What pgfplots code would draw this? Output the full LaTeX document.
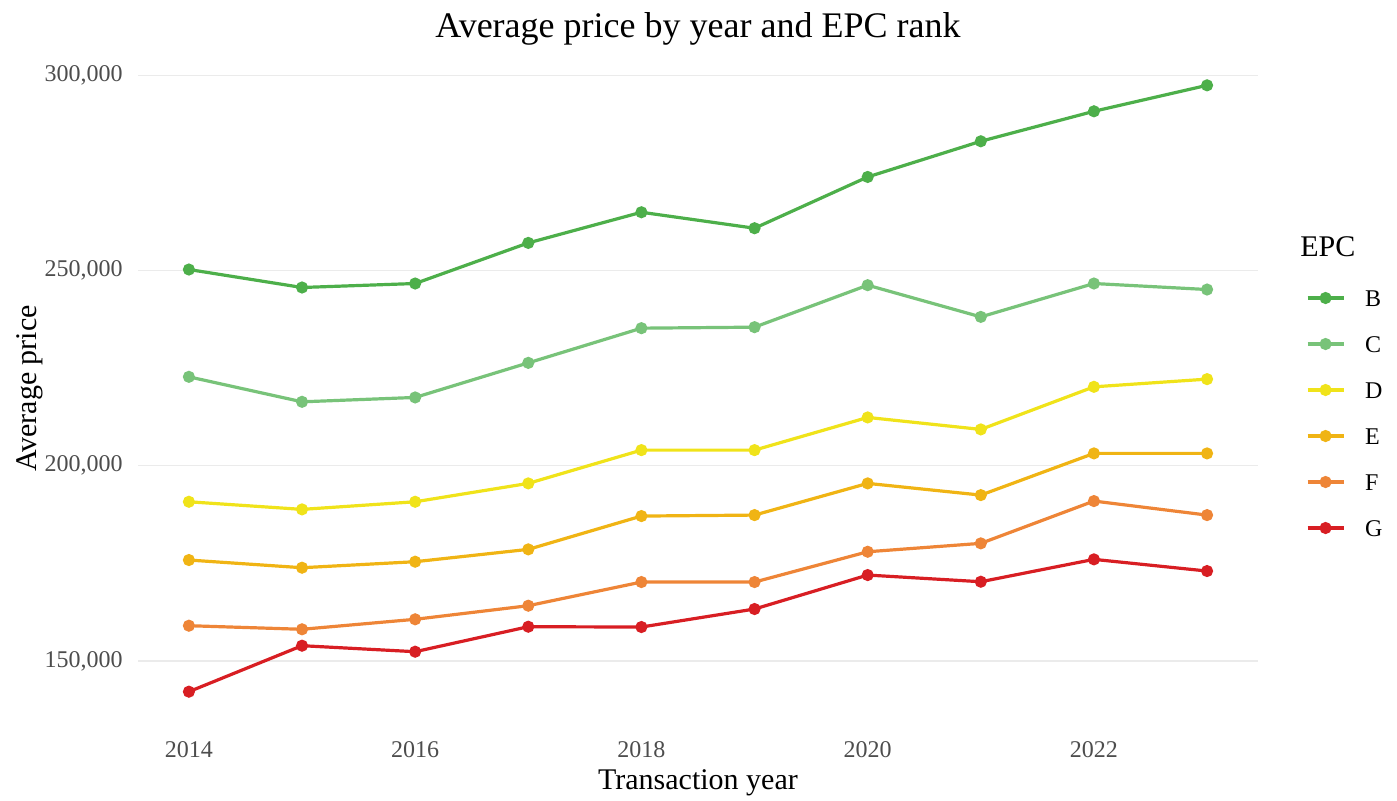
\documentclass[border=0pt]{standalone}
\usepackage{pgfplots}
\pgfplotsset{compat=1.18}
\usepackage{fontspec}
\setmainfont{Liberation Serif}
\definecolor{cB}{HTML}{4DAF4A}
\definecolor{cC}{HTML}{78C379}
\definecolor{cD}{HTML}{F0E31A}
\definecolor{cE}{HTML}{F0B414}
\definecolor{cF}{HTML}{EE8537}
\definecolor{cG}{HTML}{D81E23}
\definecolor{gridgray}{HTML}{EBEBEB}
\definecolor{tickgray}{HTML}{4D4D4D}
\begin{document}
\begin{tikzpicture}
\begin{axis}[
  scale only axis, width=560pt, height=333.5pt,
  xmin=2013.55, xmax=2023.45, ymin=134375, ymax=305205,
  clip mode=individual,
  axis line style={draw=none}, tick style={draw=none},
  xtick={2014,2016,2018,2020,2022},
  ytick={150000,200000,250000,300000},
  scaled y ticks=false,
  ymajorgrids, grid style={color=gridgray, line width=0.6pt},
  /pgf/number format/assume math mode=true,
  xticklabel style={/pgf/number format/1000 sep={}, anchor=base, yshift=-17.5pt, inner sep=0pt, font=\fontsize{12}{14}\selectfont, text=tickgray},
  yticklabel style={/pgf/number format/fixed, /pgf/number format/1000 sep={,}, anchor=east, xshift=-7.5pt, inner sep=0pt, font=\fontsize{12}{14}\selectfont, text=tickgray},
  title={Average price by year and EPC rank},
  title style={at={(0.5,1)}, anchor=base, yshift=2.6pt, inner sep=0pt, font=\fontsize{18}{22}\selectfont},
  xlabel={Transaction year},
  xlabel style={at={(0.5,0)}, anchor=base, yshift=-33.5pt, inner sep=0pt, font=\fontsize{15}{18}\selectfont},
  ylabel={Average price},
  ylabel style={at={(0,0.5)}, anchor=base, yshift=50.5pt, inner sep=0pt, font=\fontsize{15}{18}\selectfont},
  every axis plot/.append style={line width=1.6pt, mark=*, mark size=2.2pt, mark options={solid}},
  legend style={at={(1,1)}, anchor=north west, xshift=24pt, yshift=-117.5pt, draw=none, fill=none, inner sep=0pt, outer sep=0pt, row sep=15pt, column sep=10pt, nodes={inner sep=0pt, font=\fontsize{12}{14}\selectfont, text height=8pt, text depth=0pt}},
  legend cell align=left,
  legend image code/.code={\draw[mark repeat=2,mark phase=2] plot coordinates {(0pt,0pt)(9pt,0pt)(18pt,0pt)};},
]
\addplot[cB] coordinates {(2014,250265)(2015,245660)(2016,246680)(2017,257080)(2018,264930)(2019,260840)(2020,273970)(2021,283110)(2022,290790)(2023,297440)};
\addlegendentry{B}
\addplot[cC] coordinates {(2014,222780)(2015,216380)(2016,217500)(2017,226360)(2018,235240)(2019,235500)(2020,246250)(2021,238130)(2022,246680)(2023,245140)};
\addlegendentry{C}
\addplot[cD] coordinates {(2014,190780)(2015,188830)(2016,190780)(2017,195490)(2018,204010)(2019,204010)(2020,212380)(2021,209310)(2022,220220)(2023,222190)};
\addlegendentry{D}
\addplot[cE] coordinates {(2014,175860)(2015,173890)(2016,175430)(2017,178590)(2018,187120)(2019,187370)(2020,195490)(2021,192490)(2022,203170)(2023,203170)};
\addlegendentry{E}
\addplot[cF] coordinates {(2014,159040)(2015,158120)(2016,160680)(2017,164160)(2018,170220)(2019,170220)(2020,177980)(2021,180130)(2022,190960)(2023,187370)};
\addlegendentry{F}
\addplot[cG] coordinates {(2014,142140)(2015,153920)(2016,152380)(2017,158780)(2018,158700)(2019,163310)(2020,172010)(2021,170300)(2022,176030)(2023,173040)};
\addlegendentry{G}
\node[anchor=base west, inner sep=0pt, font=\fontsize{15}{18}\selectfont, xshift=21pt, yshift=-100.6pt] at (rel axis cs:1,1) {EPC};
\end{axis}
\path (current axis.south west) ++(-69pt,-39pt) rectangle ++(698.5pt,400pt);
\end{tikzpicture}
\end{document}
